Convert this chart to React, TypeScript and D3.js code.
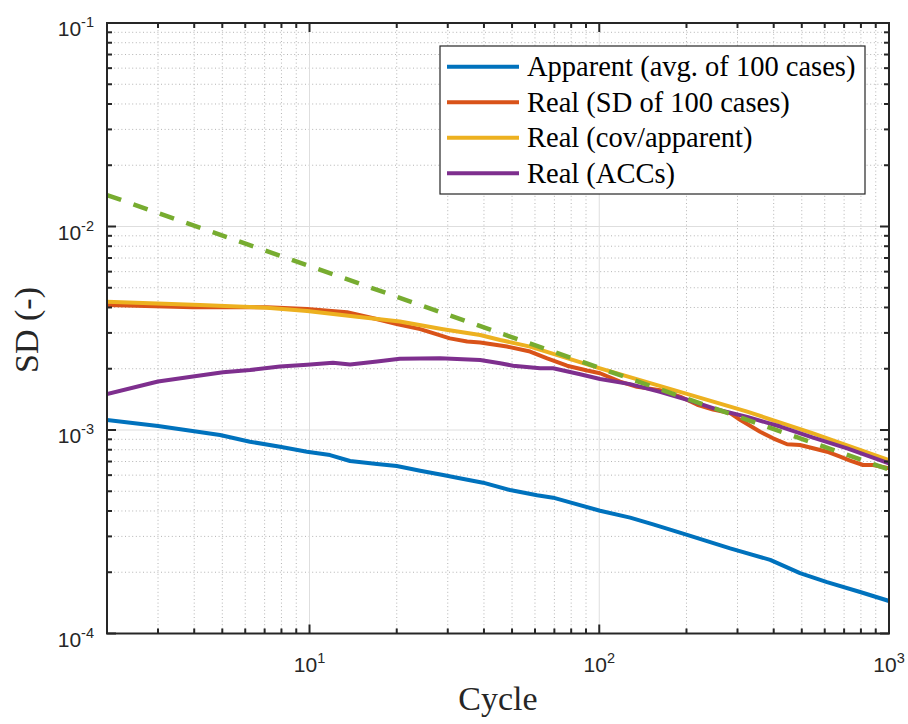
import React from "react";
import * as d3 from "d3";

// ---------- data ----------
const apparentX = [2, 3.0, 4.91, 6.23, 7.91, 9.8, 11.77, 13.8, 17.1, 20.0, 24.1, 28.9, 32.3, 39.7, 49.2, 61.0, 69.3, 79.3, 100.6, 127.8, 153.4, 201, 283, 389, 493, 611, 795, 1000];
const apparentY = [1.119e-3, 1.047e-3, 9.45e-4, 8.76e-4, 8.28e-4, 7.82e-4, 7.53e-4, 7.04e-4, 6.81e-4, 6.65e-4, 6.31e-4, 6.01e-4, 5.83e-4, 5.51e-4, 5.07e-4, 4.78e-4, 4.65e-4, 4.41e-4, 4.01e-4, 3.71e-4, 3.44e-4, 3.05e-4, 2.62e-4, 2.3e-4, 1.98e-4, 1.79e-4, 1.6e-4, 1.445e-4];

const realSdX = [2, 3.96, 7.13, 9.81, 13.47, 16.6, 20.0, 24.1, 26.7, 30.5, 35.0, 38.8, 48.0, 57.7, 66.1, 77.4, 90.8, 100.6, 118, 135, 162, 190, 218, 247, 283, 301, 324, 359, 398, 445, 493, 547, 611, 678, 734, 814, 881, 1000];
const realSdY = [4.11e-3, 4.01e-3, 4.01e-3, 3.93e-3, 3.79e-3, 3.54e-3, 3.32e-3, 3.13e-3, 2.99e-3, 2.82e-3, 2.72e-3, 2.69e-3, 2.57e-3, 2.43e-3, 2.25e-3, 2.07e-3, 1.96e-3, 1.9e-3, 1.73e-3, 1.63e-3, 1.57e-3, 1.46e-3, 1.33e-3, 1.26e-3, 1.21e-3, 1.14e-3, 1.07e-3, 9.81e-4, 9.1e-4, 8.51e-4, 8.44e-4, 8.13e-4, 7.82e-4, 7.39e-4, 7.07e-4, 6.73e-4, 6.73e-4, 6.48e-4];

const realCovX = [2, 4.19, 7.13, 9.81, 14.6, 20.5, 28.9, 38.8, 45.5, 57.7, 100.6, 190, 324, 547, 1000];
const realCovY = [4.27e-3, 4.11e-3, 3.99e-3, 3.84e-3, 3.6e-3, 3.41e-3, 3.13e-3, 2.93e-3, 2.77e-3, 2.57e-3, 2.01e-3, 1.54e-3, 1.23e-3, 9.63e-4, 7.12e-4];

const realAccX = [2, 3.0, 3.96, 5.03, 6.23, 7.91, 9.81, 12.05, 13.8, 17.1, 20.5, 28.2, 32.3, 38.8, 45.5, 50.4, 62.5, 69.3, 85.9, 100.6, 127.8, 162, 211, 261, 324, 421, 547, 717, 1000];
const realAccY = [1.5e-3, 1.73e-3, 1.83e-3, 1.92e-3, 1.97e-3, 2.05e-3, 2.09e-3, 2.14e-3, 2.1e-3, 2.17e-3, 2.24e-3, 2.25e-3, 2.23e-3, 2.21e-3, 2.13e-3, 2.07e-3, 2.01e-3, 2.01e-3, 1.88e-3, 1.78e-3, 1.68e-3, 1.54e-3, 1.38e-3, 1.25e-3, 1.16e-3, 1.04e-3, 9.17e-4, 8.13e-4, 6.86e-4];

const refX = [2, 1000];
const refY = [0.01428, 0.000639];

const legendLabels = ["Apparent (avg. of 100 cases)", "Real (SD of 100 cases)", "Real (cov/apparent)", "Real (ACCs)"];
const seriesColors = ["#0072BD", "#D95319", "#EDB120", "#7E2F8E"];
const refColor = "#77AC30";

const xMajorTicks = [10, 100, 1000];
const xMajorExp = ["1", "2", "3"];
const yMajorTicks = [1e-1, 1e-2, 1e-3, 1e-4];
const yMajorExp = ["-1", "-2", "-3", "-4"];

// ---------- layout ----------
const W = 908, H = 724;
const L = 107, R = 889, T = 23, B = 633.5;

export default function App() {
  const x = d3.scaleLog().domain([2, 1000]).range([L, R]);
  const y = d3.scaleLog().domain([1e-4, 1e-1]).range([B, T]);

  const xMinor: number[] = [];
  [1, 10, 100].forEach((d) => { for (let k = 2; k <= 9; k++) { const v = d * k; if (v > 2 && v < 1000) xMinor.push(v); } });
  const yMinor: number[] = [];
  [1e-4, 1e-3, 1e-2].forEach((d) => { for (let k = 2; k <= 9; k++) yMinor.push(d * k); });

  const line = d3.line<[number, number]>().x((d) => x(d[0])).y((d) => y(d[1])).curve(d3.curveLinear);
  const zip = (xs: number[], ys: number[]) => xs.map((v, i) => [v, ys[i]] as [number, number]);
  const series = [zip(apparentX, apparentY), zip(realSdX, realSdY), zip(realCovX, realCovY), zip(realAccX, realAccY)];

  const axisColor = "#262626";
  const tickFont = "Liberation Sans, Arial, Helvetica, sans-serif";
  const serif = "Liberation Serif, Times New Roman, Times, serif";
  const tickStyle = { fontFamily: tickFont, fontSize: "21px", fill: axisColor } as React.CSSProperties;
  const supStyle = { fontSize: "14.5px" } as React.CSSProperties;

  const legX = 440, legY = 46, legW = 425, legH = 148;
  const rowY = (i: number) => 66.7 + i * 35.5;

  return (
    <svg width={W} height={H} style={{ position: "absolute", left: 0, top: 0, background: "#fff" }}>
      <defs>
        <clipPath id="plotclip"><rect x={L} y={T} width={R - L} height={B - T} /></clipPath>
      </defs>
      <rect x={0} y={0} width={W} height={H} fill="#fff" />
      {/* minor grid */}
      <g stroke="#b4b4b4" strokeWidth={1} strokeDasharray="1 2.6">
        {xMinor.map((v) => <line key={"xm" + v} x1={x(v)} x2={x(v)} y1={T} y2={B} />)}
        {yMinor.map((v) => <line key={"ym" + v} x1={L} x2={R} y1={y(v)} y2={y(v)} />)}
      </g>
      {/* major grid */}
      <g stroke="#dedede" strokeWidth={1}>
        {xMajorTicks.slice(0, 2).map((v) => <line key={"xg" + v} x1={x(v)} x2={x(v)} y1={T} y2={B} />)}
        {yMajorTicks.slice(1, 3).map((v) => <line key={"yg" + v} x1={L} x2={R} y1={y(v)} y2={y(v)} />)}
      </g>
      {/* data */}
      <g clipPath="url(#plotclip)" fill="none" strokeLinejoin="round">
        {series.map((s, i) => <path key={i} d={line(s) || ""} stroke={seriesColors[i]} strokeWidth={4} />)}
        <path d={line(zip(refX, refY)) || ""} stroke={refColor} strokeWidth={4.5} strokeDasharray="15 13" />
      </g>
      {/* axes box */}
      <rect x={L} y={T} width={R - L} height={B - T} fill="none" stroke={axisColor} strokeWidth={2} />
      {/* ticks */}
      <g stroke={axisColor} strokeWidth={2}>
        {xMajorTicks.map((v) => (
          <g key={"xt" + v}>
            <line x1={x(v)} x2={x(v)} y1={B} y2={B - 9} />
            <line x1={x(v)} x2={x(v)} y1={T} y2={T + 9} />
          </g>
        ))}
        {xMinor.map((v) => (
          <g key={"xmt" + v}>
            <line x1={x(v)} x2={x(v)} y1={B} y2={B - 5} />
            <line x1={x(v)} x2={x(v)} y1={T} y2={T + 5} />
          </g>
        ))}
        {yMajorTicks.map((v) => (
          <g key={"yt" + v}>
            <line x1={L} x2={L + 9} y1={y(v)} y2={y(v)} />
            <line x1={R} x2={R - 9} y1={y(v)} y2={y(v)} />
          </g>
        ))}
        {yMinor.map((v) => (
          <g key={"ymt" + v}>
            <line x1={L} x2={L + 5} y1={y(v)} y2={y(v)} />
            <line x1={R} x2={R - 5} y1={y(v)} y2={y(v)} />
          </g>
        ))}
      </g>
      {/* tick labels */}
      {xMajorTicks.map((v, i) => (
        <text key={"xl" + v} x={x(v)} y={672} textAnchor="middle" style={tickStyle}>
          10<tspan dy={-9} style={supStyle}>{xMajorExp[i]}</tspan>
        </text>
      ))}
      {yMajorTicks.map((v, i) => (
        <text key={"yl" + v} x={94} y={y(v) + 13} textAnchor="end" style={tickStyle}>
          10<tspan dy={-9} style={supStyle}>{yMajorExp[i]}</tspan>
        </text>
      ))}
      {/* axis titles */}
      <text x={498} y={710} textAnchor="middle" style={{ fontFamily: serif, fontSize: "34px", fill: axisColor }}>Cycle</text>
      <text transform="translate(38,330) rotate(-90)" textAnchor="middle" style={{ fontFamily: serif, fontSize: "34px", fill: axisColor }}>SD (-)</text>
      {/* legend */}
      <rect x={legX} y={legY} width={legW} height={legH} fill="#fff" stroke={axisColor} strokeWidth={1.2} />
      {legendLabels.map((lab, i) => (
        <g key={lab}>
          <line x1={447} x2={519} y1={rowY(i)} y2={rowY(i)} stroke={seriesColors[i]} strokeWidth={4} />
          <text x={527} y={rowY(i) + 9.5} style={{ fontFamily: serif, fontSize: "28.5px", fill: "#000" }}>{lab}</text>
        </g>
      ))}
    </svg>
  );
}
